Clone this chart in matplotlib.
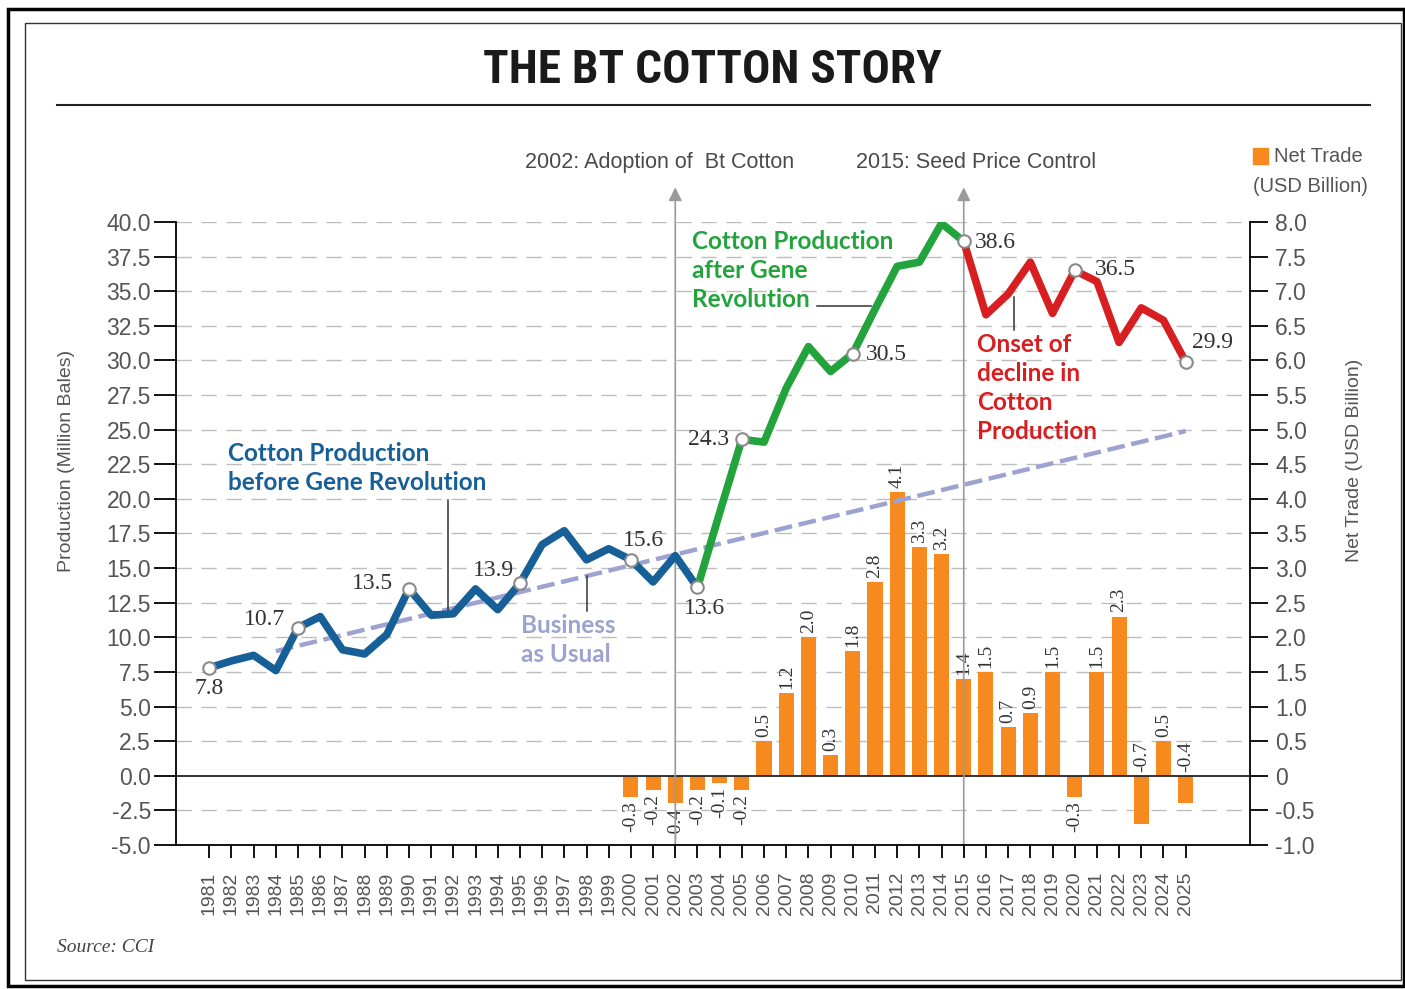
import matplotlib
matplotlib.use('Agg')
import matplotlib.pyplot as plt
import numpy as np
from matplotlib.lines import Line2D
from matplotlib.patches import Rectangle

'''The Bt cotton story: production line with net trade bars'''

plt.rcParams['axes.unicode_minus'] = False

# Data
years = list(range(1981, 2026))
production = [7.8, 8.3, 8.7, 7.6, 10.7, 11.5, 9.1, 8.8, 10.2, 13.5,
              11.6, 11.7, 13.5, 12.0, 13.9, 16.7, 17.7, 15.6, 16.4, 15.6,
              14.0, 15.9, 13.6, 19.0, 24.3, 24.1, 28.0, 31.0, 29.2, 30.5,
              33.7, 36.8, 37.1, 39.9, 38.6, 33.3, 34.8, 37.1, 33.4, 36.5,
              35.7, 31.3, 33.8, 32.9, 29.9]
trade_years = list(range(2000, 2026))
net_trade = [-0.3, -0.2, -0.4, -0.2, -0.1, -0.2, 0.5, 1.2, 2.0, 0.3,
             1.8, 2.8, 4.1, 3.3, 3.2, 1.4, 1.5, 0.7, 0.9, 1.5,
             -0.3, 1.5, 2.3, -0.7, 0.5, -0.4]
bau_years = [1984, 2025]          # business as usual trend
bau_values = [9.0, 24.9]
labeled_years = [1981, 1985, 1990, 1995, 2000, 2003, 2005, 2010, 2015, 2020, 2025]
# offsets (points) for the value labels
label_offsets = [(0, -15), (-24, 6), (-26, 4), (-19, 9), (9, 14), (5, -15),
                 (-24, 0), (24, -1), (23, -1), (29, 1), (19, 14)]
# negative bars whose label sits above the zero line
labels_over_zero = [2023, 2025]
left_ticks = list(np.arange(-5, 40.1, 2.5))
left_ticklabels = ['%.1f' % t for t in left_ticks]
right_ticks = list(np.arange(-1, 8.01, 0.5))
right_ticklabels = ['0' if t == 0 else '%.1f' % t for t in right_ticks]
split_blue = 2003   # end of first segment
split_green = 2015  # end of second segment

# Colours
BLUE = '#175f97'
GREEN = '#22a33c'
RED = '#d71e20'
ORANGE = '#f68a1e'
LAV = '#9da2d0'
GRAY = '#555555'

fig = plt.figure(figsize=(14.05, 9.89), dpi=100)
W, H = 1405, 989
ax2 = fig.add_axes([176 / W, 1 - 845 / H, 1074 / W, 623 / H])
ax = fig.add_axes([176 / W, 1 - 845 / H, 1074 / W, 623 / H], sharex=ax2)
ax.set_zorder(ax2.get_zorder() + 1)
ax.patch.set_visible(False)
ax2.yaxis.tick_right()
ax2.yaxis.set_label_position('right')

ax.set_xlim(1979.5, 2027.9)
ax.set_ylim(-5, 40)
ax2.set_ylim(-1, 8)

# grid + zero line (drawn on the bar axes so bars cover them)
for t in right_ticks:
    if t in (-1, 0):
        continue
    ax2.axhline(t, color='#bdbdbd', lw=1.0, dashes=(11, 7), zorder=0)
ax2.axhline(0, color='#222222', lw=1.3, zorder=3)

# bars
ax2.bar(trade_years, net_trade, width=0.68, color=ORANGE, zorder=2)
for x, v in zip(trade_years, net_trade):
    if v > 0:
        y0, dy, va = v, 3, 'bottom'
    elif x in labels_over_zero:
        y0, dy, va = 0, 3, 'bottom'
    else:
        y0, dy, va = v, -3, 'top'
    ax2.annotate('%.1f' % v, (x, y0), xytext=(0, dy),
                 textcoords='offset points', rotation=90, ha='center',
                 va=va, fontsize=14, family='Liberation Serif',
                 color='#333333')

# vertical arrows for events
for yr, txt, tx in [(2002, '2002: Adoption of  Bt Cotton', 2001.3),
                    (2015, '2015: Seed Price Control', 2015.55)]:
    ax.annotate('', xy=(yr, 42.5), xytext=(yr, -5),
                arrowprops=dict(arrowstyle='-|>', color='#9a9a9a', lw=1.2,
                                mutation_scale=20, shrinkA=0, shrinkB=0),
                annotation_clip=False, zorder=1)
    ax.text(tx, 44.3, txt, ha='center', va='center', fontsize=15.5,
            family='Liberation Sans', color='#4a4a4a', clip_on=False)

# business as usual
ax.plot(bau_years, bau_values, color=LAV, lw=3.2, dashes=(4, 1.5), zorder=3)

# production line in three parts
i1 = years.index(split_blue)
i2 = years.index(split_green)
kw = dict(lw=5.5, solid_joinstyle='round', solid_capstyle='round', zorder=4)
ax.plot(years[:i1 + 1], production[:i1 + 1], color=BLUE, **kw)
ax.plot(years[i1:i2 + 1], production[i1:i2 + 1], color=GREEN, **kw)
ax.plot(years[i2:], production[i2:], color=RED, **kw)

lab_vals = [production[years.index(y)] for y in labeled_years]
ax.plot(labeled_years, lab_vals, 'o', mfc='white', mec='#8a8a8a', ms=9,
        mew=1.5, zorder=6)
for x, v, off in zip(labeled_years, lab_vals, label_offsets):
    ax.annotate('%.1f' % v, (x, v), xytext=off, textcoords='offset points',
                ha='center', va='center', fontsize=17,
                family='Liberation Serif', color='#333333', zorder=7)

# annotation texts with leaders
note_kw = dict(fontsize=17.5, weight='bold', family=['Lato', 'DejaVu Sans'],
               va='top', ha='left', linespacing=1.32)
ax.text(1981.86, 24.1, 'Cotton Production\nbefore Gene Revolution',
        color=BLUE, **note_kw)
ax.plot([1991.77, 1991.77], [19.9, 11.8], color='#333333', lw=1.1, zorder=3)
ax.text(1995.05, 11.7, 'Business\nas Usual', color=LAV, **note_kw)
ax.plot([1998.0, 1998.0], [14.4, 11.9], color='#333333', lw=1.1, zorder=3)
ax.text(2002.76, 39.4, 'Cotton Production\nafter Gene\nRevolution',
        color=GREEN, **note_kw)
ax.plot([2008.4, 2010.8], [33.9, 33.9], color='#333333', lw=1.1, zorder=3)
ax.text(2015.6, 32.0, 'Onset of\ndecline in\nCotton\nProduction',
        color=RED, **note_kw)
ax.plot([2017.26, 2017.26], [34.6, 32.2], color='#333333', lw=1.1, zorder=3)

# axes styling
for s in ['top', 'right']:
    ax.spines[s].set_visible(False)
for s in ['top', 'left', 'bottom']:
    ax2.spines[s].set_visible(False)
ax.spines['left'].set_linewidth(1.3)
ax.spines['bottom'].set_linewidth(1.3)
ax2.spines['right'].set_linewidth(1.3)

ax.set_yticks(left_ticks)
ax.set_yticklabels(left_ticklabels)
ax.tick_params(axis='y', length=16, width=1.3, pad=2, labelsize=16.5,
               labelcolor=GRAY)
ax2.set_yticks(right_ticks)
ax2.set_yticklabels(right_ticklabels)
ax2.tick_params(axis='y', length=13, width=1.3, pad=5, labelsize=16.5,
                labelcolor=GRAY)
ax.set_xticks(years)
ax.set_xticklabels([str(y) for y in years], rotation=90)
ax.tick_params(axis='x', length=9, width=1.3, pad=10, labelsize=14,
               labelcolor=GRAY)
ax2.tick_params(axis='x', bottom=False, labelbottom=False)
for lab in ax.get_xticklabels() + ax.get_yticklabels() + ax2.get_yticklabels():
    lab.set_family('Liberation Sans')

ax.set_ylabel('Production (Million Bales)', fontsize=14, color=GRAY,
              family='Liberation Sans')
ax.yaxis.set_label_coords(-0.094, 0.616)
ax2.set_ylabel('Net Trade (USD Billion)', fontsize=14, color=GRAY,
               family='Liberation Sans', rotation=90)
ax2.yaxis.set_label_coords(1.089, 0.618)

# title, rules, frame, legend, source
fig.text(712 / W, 1 - 70 / H, 'THE BT COTTON STORY', ha='center', va='center',
         fontsize=34, weight='bold',
         family=['Liberation Sans Narrow', 'DejaVu Sans Condensed',
                 'Roboto Condensed', 'Open Sans Condensed', 'Liberation Sans'],
         color='#1a1a1a')
fig.add_artist(Line2D([57 / W, 1370 / W], [1 - 105 / H, 1 - 105 / H],
                      color='#222222', lw=1.5))
fig.add_artist(Rectangle((8 / W, 1 - 986 / H), 1396 / W, 977 / H,
                         fill=False, lw=2.5, ec='black',
                         transform=fig.transFigure))
fig.add_artist(Rectangle((25 / W, 1 - 980 / H), 1376 / W, 957 / H,
                         fill=False, lw=1.0, ec='#333333',
                         transform=fig.transFigure))
fig.add_artist(Rectangle((1253 / W, 1 - 164 / H), 15 / W, 16 / H,
                         color=ORANGE, transform=fig.transFigure))
fig.text(1274 / W, 1 - 156 / H, 'Net Trade', ha='left', va='center',
         fontsize=14.5, family='Liberation Sans', color=GRAY)
fig.text(1368 / W, 1 - 187 / H, '(USD Billion)', ha='right', va='center',
         fontsize=14.5, family='Liberation Sans', color=GRAY)
fig.text(57 / W, 1 - 948 / H, 'Source: CCI', ha='left', va='center',
         fontsize=14, style='italic', family='Liberation Serif', color='#444444')

plt.savefig('out.png', dpi=100)
